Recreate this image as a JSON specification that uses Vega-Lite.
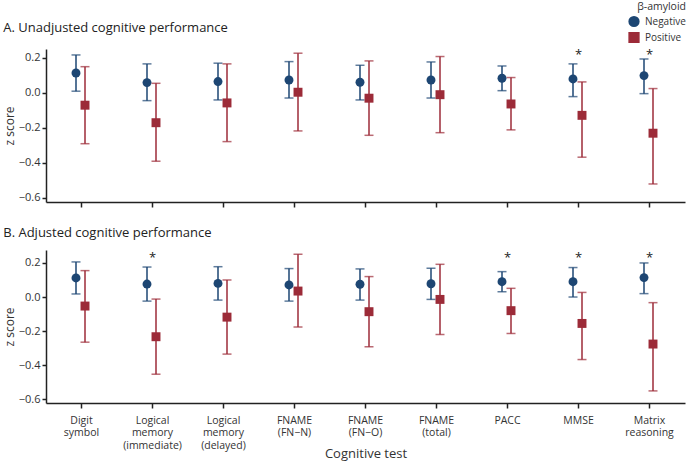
{
  "$schema": "https://vega.github.io/schema/vega-lite/v6.json",
  "padding": {"left": 3, "top": 2, "right": 0, "bottom": 0},
  "background": "white",
  "config": {
    "font": "Open Sans",
    "view": {"stroke": null},
    "axis": {"domainColor": "#222", "tickColor": "#222", "labelColor": "#333", "titleColor": "#333", "labelFontSize": 11, "titleFontSize": 12, "titleFontWeight": "normal", "grid": false, "domainWidth": 1.5, "tickWidth": 1.5},
    "title": {"fontSize": 13, "fontWeight": "normal", "color": "#222", "anchor": "start", "frame": "bounds"},
    "legend": {"labelFontSize": 10, "titleFontSize": 10.5, "titleFontWeight": "normal", "labelColor": "#333", "titleColor": "#333", "symbolOpacity": 1}
  },
  "datasets": {
    "unadj": [
      {"test": "Digit|symbol", "group": "Negative", "est": 0.114, "lo": 0.01, "hi": 0.217},
      {"test": "Digit|symbol", "group": "Positive", "est": -0.07, "lo": -0.29, "hi": 0.15},
      {"test": "Logical|memory|(immediate)", "group": "Negative", "est": 0.059, "lo": -0.044, "hi": 0.166},
      {"test": "Logical|memory|(immediate)", "group": "Positive", "est": -0.17, "lo": -0.39, "hi": 0.055},
      {"test": "Logical|memory|(delayed)", "group": "Negative", "est": 0.065, "lo": -0.04, "hi": 0.17},
      {"test": "Logical|memory|(delayed)", "group": "Positive", "est": -0.057, "lo": -0.278, "hi": 0.166},
      {"test": "FNAME|(FN−N)", "group": "Negative", "est": 0.074, "lo": -0.029, "hi": 0.179},
      {"test": "FNAME|(FN−N)", "group": "Positive", "est": 0.004, "lo": -0.217, "hi": 0.227},
      {"test": "FNAME|(FN−O)", "group": "Negative", "est": 0.061, "lo": -0.04, "hi": 0.158},
      {"test": "FNAME|(FN−O)", "group": "Positive", "est": -0.03, "lo": -0.242, "hi": 0.183},
      {"test": "FNAME|(total)", "group": "Negative", "est": 0.074, "lo": -0.029, "hi": 0.177},
      {"test": "FNAME|(total)", "group": "Positive", "est": -0.01, "lo": -0.227, "hi": 0.208},
      {"test": "PACC", "group": "Negative", "est": 0.084, "lo": 0.013, "hi": 0.154},
      {"test": "PACC", "group": "Positive", "est": -0.063, "lo": -0.211, "hi": 0.088},
      {"test": "MMSE", "group": "Negative", "est": 0.08, "lo": -0.021, "hi": 0.166},
      {"test": "MMSE", "group": "Positive", "est": -0.128, "lo": -0.367, "hi": 0.063},
      {"test": "Matrix|reasoning", "group": "Negative", "est": 0.099, "lo": -0.004, "hi": 0.194},
      {"test": "Matrix|reasoning", "group": "Positive", "est": -0.23, "lo": -0.52, "hi": 0.025}
    ],
    "adj": [
      {"test": "Digit|symbol", "group": "Negative", "est": 0.112, "lo": 0.018, "hi": 0.206},
      {"test": "Digit|symbol", "group": "Positive", "est": -0.053, "lo": -0.265, "hi": 0.155},
      {"test": "Logical|memory|(immediate)", "group": "Negative", "est": 0.076, "lo": -0.024, "hi": 0.176},
      {"test": "Logical|memory|(immediate)", "group": "Positive", "est": -0.233, "lo": -0.453, "hi": -0.012},
      {"test": "Logical|memory|(delayed)", "group": "Negative", "est": 0.08, "lo": -0.018, "hi": 0.178},
      {"test": "Logical|memory|(delayed)", "group": "Positive", "est": -0.118, "lo": -0.335, "hi": 0.1},
      {"test": "FNAME|(FN−N)", "group": "Negative", "est": 0.071, "lo": -0.024, "hi": 0.167},
      {"test": "FNAME|(FN−N)", "group": "Positive", "est": 0.035, "lo": -0.176, "hi": 0.251},
      {"test": "FNAME|(FN−O)", "group": "Negative", "est": 0.075, "lo": -0.018, "hi": 0.165},
      {"test": "FNAME|(FN−O)", "group": "Positive", "est": -0.086, "lo": -0.292, "hi": 0.12},
      {"test": "FNAME|(total)", "group": "Negative", "est": 0.078, "lo": -0.014, "hi": 0.169},
      {"test": "FNAME|(total)", "group": "Positive", "est": -0.014, "lo": -0.22, "hi": 0.192},
      {"test": "PACC", "group": "Negative", "est": 0.09, "lo": 0.031, "hi": 0.149},
      {"test": "PACC", "group": "Positive", "est": -0.08, "lo": -0.214, "hi": 0.051},
      {"test": "MMSE", "group": "Negative", "est": 0.09, "lo": 0.0, "hi": 0.173},
      {"test": "MMSE", "group": "Positive", "est": -0.155, "lo": -0.367, "hi": 0.027},
      {"test": "Matrix|reasoning", "group": "Negative", "est": 0.114, "lo": 0.02, "hi": 0.2},
      {"test": "Matrix|reasoning", "group": "Positive", "est": -0.276, "lo": -0.551, "hi": -0.033}
    ],
    "starsA": [
      {"test": "MMSE", "y": 0.235},
      {"test": "Matrix|reasoning", "y": 0.235}
    ],
    "starsB": [
      {"test": "Logical|memory|(immediate)", "y": 0.247},
      {"test": "PACC", "y": 0.247},
      {"test": "MMSE", "y": 0.247},
      {"test": "Matrix|reasoning", "y": 0.247}
    ]
  },
  "resolve": {"scale": {"x": "independent", "y": "independent"}},
  "spacing": 19,
  "vconcat": [
    {
      "width": 639,
      "height": 153,
      "title": {"text": "A. Unadjusted cognitive performance", "offset": 14},
      "encoding": {
        "x": {"field": "test", "type": "nominal", "sort": null,
          "scale": {"paddingInner": 0, "paddingOuter": 0, "domain": ["Digit|symbol", "Logical|memory|(immediate)", "Logical|memory|(delayed)", "FNAME|(FN−N)", "FNAME|(FN−O)", "FNAME|(total)", "PACC", "MMSE", "Matrix|reasoning"]},
          "axis": {"labels": false, "title": null, "tickSize": 5, "labelAngle": 0}}
      },
      "layer": [
        {
          "data": {"name": "unadj"},
          "mark": {"type": "rule", "strokeWidth": 1.5},
          "encoding": {
            "xOffset": {"field": "group", "type": "nominal", "scale": {"domain": ["Negative", "Positive"], "range": [25.5, 43.5], "paddingInner": 0, "paddingOuter": 0}},
            "y": {"field": "lo", "type": "quantitative", "scale": {"domain": [-0.623, 0.251], "nice": false, "zero": false}, "axis": {"values": [-0.6, -0.4, -0.2, 0, 0.2], "format": ".1f", "title": "z score", "tickSize": 4, "titlePadding": 2, "labelOverlap": false}},
            "y2": {"field": "hi"},
            "color": {"field": "group", "type": "nominal", "scale": {"domain": ["Negative", "Positive"], "range": ["#1d4673", "#9c2b38"]}}
          }
        },
        {
          "data": {"name": "unadj"},
          "mark": {"type": "tick", "thickness": 1.5, "size": 9, "orient": "horizontal"},
          "encoding": {
            "xOffset": {"field": "group", "type": "nominal"},
            "y": {"field": "lo", "type": "quantitative", "axis": {"values": [-0.6, -0.4, -0.2, 0, 0.2], "format": ".1f", "title": "z score", "tickSize": 4, "titlePadding": 2, "labelOverlap": false}},
            "color": {"field": "group", "type": "nominal"}
          }
        },
        {
          "data": {"name": "unadj"},
          "mark": {"type": "tick", "thickness": 1.5, "size": 9, "orient": "horizontal"},
          "encoding": {
            "xOffset": {"field": "group", "type": "nominal"},
            "y": {"field": "hi", "type": "quantitative", "axis": {"values": [-0.6, -0.4, -0.2, 0, 0.2], "format": ".1f", "title": "z score", "tickSize": 4, "titlePadding": 2, "labelOverlap": false}},
            "color": {"field": "group", "type": "nominal"}
          }
        },
        {
          "data": {"name": "unadj"},
          "mark": {"type": "point", "filled": true, "opacity": 1, "size": 80},
          "encoding": {
            "xOffset": {"field": "group", "type": "nominal"},
            "y": {"field": "est", "type": "quantitative", "axis": {"values": [-0.6, -0.4, -0.2, 0, 0.2], "format": ".1f", "title": "z score", "tickSize": 4, "titlePadding": 2, "labelOverlap": false}},
            "color": {"field": "group", "type": "nominal", "title": "β-amyloid", "legend": {"orient": "none", "legendX": 582, "legendY": -47, "symbolSize": 95, "rowPadding": 0, "titleAnchor": "end", "titlePadding": 3, "labelOffset": 5}},
            "shape": {"field": "group", "type": "nominal", "scale": {"domain": ["Negative", "Positive"], "range": ["circle", "square"]}, "title": "β-amyloid"}
          }
        },
        {
          "data": {"name": "starsA"},
          "mark": {"type": "text", "text": "*", "fontSize": 13, "baseline": "middle", "color": "#222", "dy": 3},
          "encoding": {
            "y": {"field": "y", "type": "quantitative", "axis": {"values": [-0.6, -0.4, -0.2, 0, 0.2], "format": ".1f", "title": "z score", "tickSize": 4, "titlePadding": 2, "labelOverlap": false}}
          }
        }
      ]
    },
    {
      "width": 639,
      "height": 153,
      "title": {"text": "B. Adjusted cognitive performance", "offset": 10},
      "encoding": {
        "x": {"field": "test", "type": "nominal", "sort": null,
          "scale": {"paddingInner": 0, "paddingOuter": 0, "domain": ["Digit|symbol", "Logical|memory|(immediate)", "Logical|memory|(delayed)", "FNAME|(FN−N)", "FNAME|(FN−O)", "FNAME|(total)", "PACC", "MMSE", "Matrix|reasoning"]},
          "axis": {"labelExpr": "split(datum.label, '|')", "title": "Cognitive test", "titleFontSize": 13, "labelFontSize": 10.5, "tickSize": 5, "labelAngle": 0, "labelPadding": 7, "labelLineHeight": 12.5, "titlePadding": -3, "labelOverlap": false}
        }
      },
      "layer": [
        {
          "data": {"name": "adj"},
          "mark": {"type": "rule", "strokeWidth": 1.5},
          "encoding": {
            "xOffset": {"field": "group", "type": "nominal", "scale": {"domain": ["Negative", "Positive"], "range": [25.5, 43.5], "paddingInner": 0, "paddingOuter": 0}},
            "y": {"field": "lo", "type": "quantitative", "scale": {"domain": [-0.622, 0.276], "nice": false, "zero": false}, "axis": {"values": [-0.6, -0.4, -0.2, 0, 0.2], "format": ".1f", "title": "z score", "tickSize": 4, "titlePadding": 2, "labelOverlap": false}},
            "y2": {"field": "hi"},
            "color": {"field": "group", "type": "nominal"}
          }
        },
        {
          "data": {"name": "adj"},
          "mark": {"type": "tick", "thickness": 1.5, "size": 9, "orient": "horizontal"},
          "encoding": {
            "xOffset": {"field": "group", "type": "nominal"},
            "y": {"field": "lo", "type": "quantitative", "axis": {"values": [-0.6, -0.4, -0.2, 0, 0.2], "format": ".1f", "title": "z score", "tickSize": 4, "titlePadding": 2, "labelOverlap": false}},
            "color": {"field": "group", "type": "nominal"}
          }
        },
        {
          "data": {"name": "adj"},
          "mark": {"type": "tick", "thickness": 1.5, "size": 9, "orient": "horizontal"},
          "encoding": {
            "xOffset": {"field": "group", "type": "nominal"},
            "y": {"field": "hi", "type": "quantitative", "axis": {"values": [-0.6, -0.4, -0.2, 0, 0.2], "format": ".1f", "title": "z score", "tickSize": 4, "titlePadding": 2, "labelOverlap": false}},
            "color": {"field": "group", "type": "nominal"}
          }
        },
        {
          "data": {"name": "adj"},
          "mark": {"type": "point", "filled": true, "opacity": 1, "size": 80},
          "encoding": {
            "xOffset": {"field": "group", "type": "nominal"},
            "y": {"field": "est", "type": "quantitative", "axis": {"values": [-0.6, -0.4, -0.2, 0, 0.2], "format": ".1f", "title": "z score", "tickSize": 4, "titlePadding": 2, "labelOverlap": false}},
            "color": {"field": "group", "type": "nominal"},
            "shape": {"field": "group", "type": "nominal"}
          }
        },
        {
          "data": {"name": "starsB"},
          "mark": {"type": "text", "text": "*", "fontSize": 13, "baseline": "middle", "color": "#222", "dy": 3},
          "encoding": {
            "y": {"field": "y", "type": "quantitative", "axis": {"values": [-0.6, -0.4, -0.2, 0, 0.2], "format": ".1f", "title": "z score", "tickSize": 4, "titlePadding": 2, "labelOverlap": false}}
          }
        }
      ]
    }
  ]
}
